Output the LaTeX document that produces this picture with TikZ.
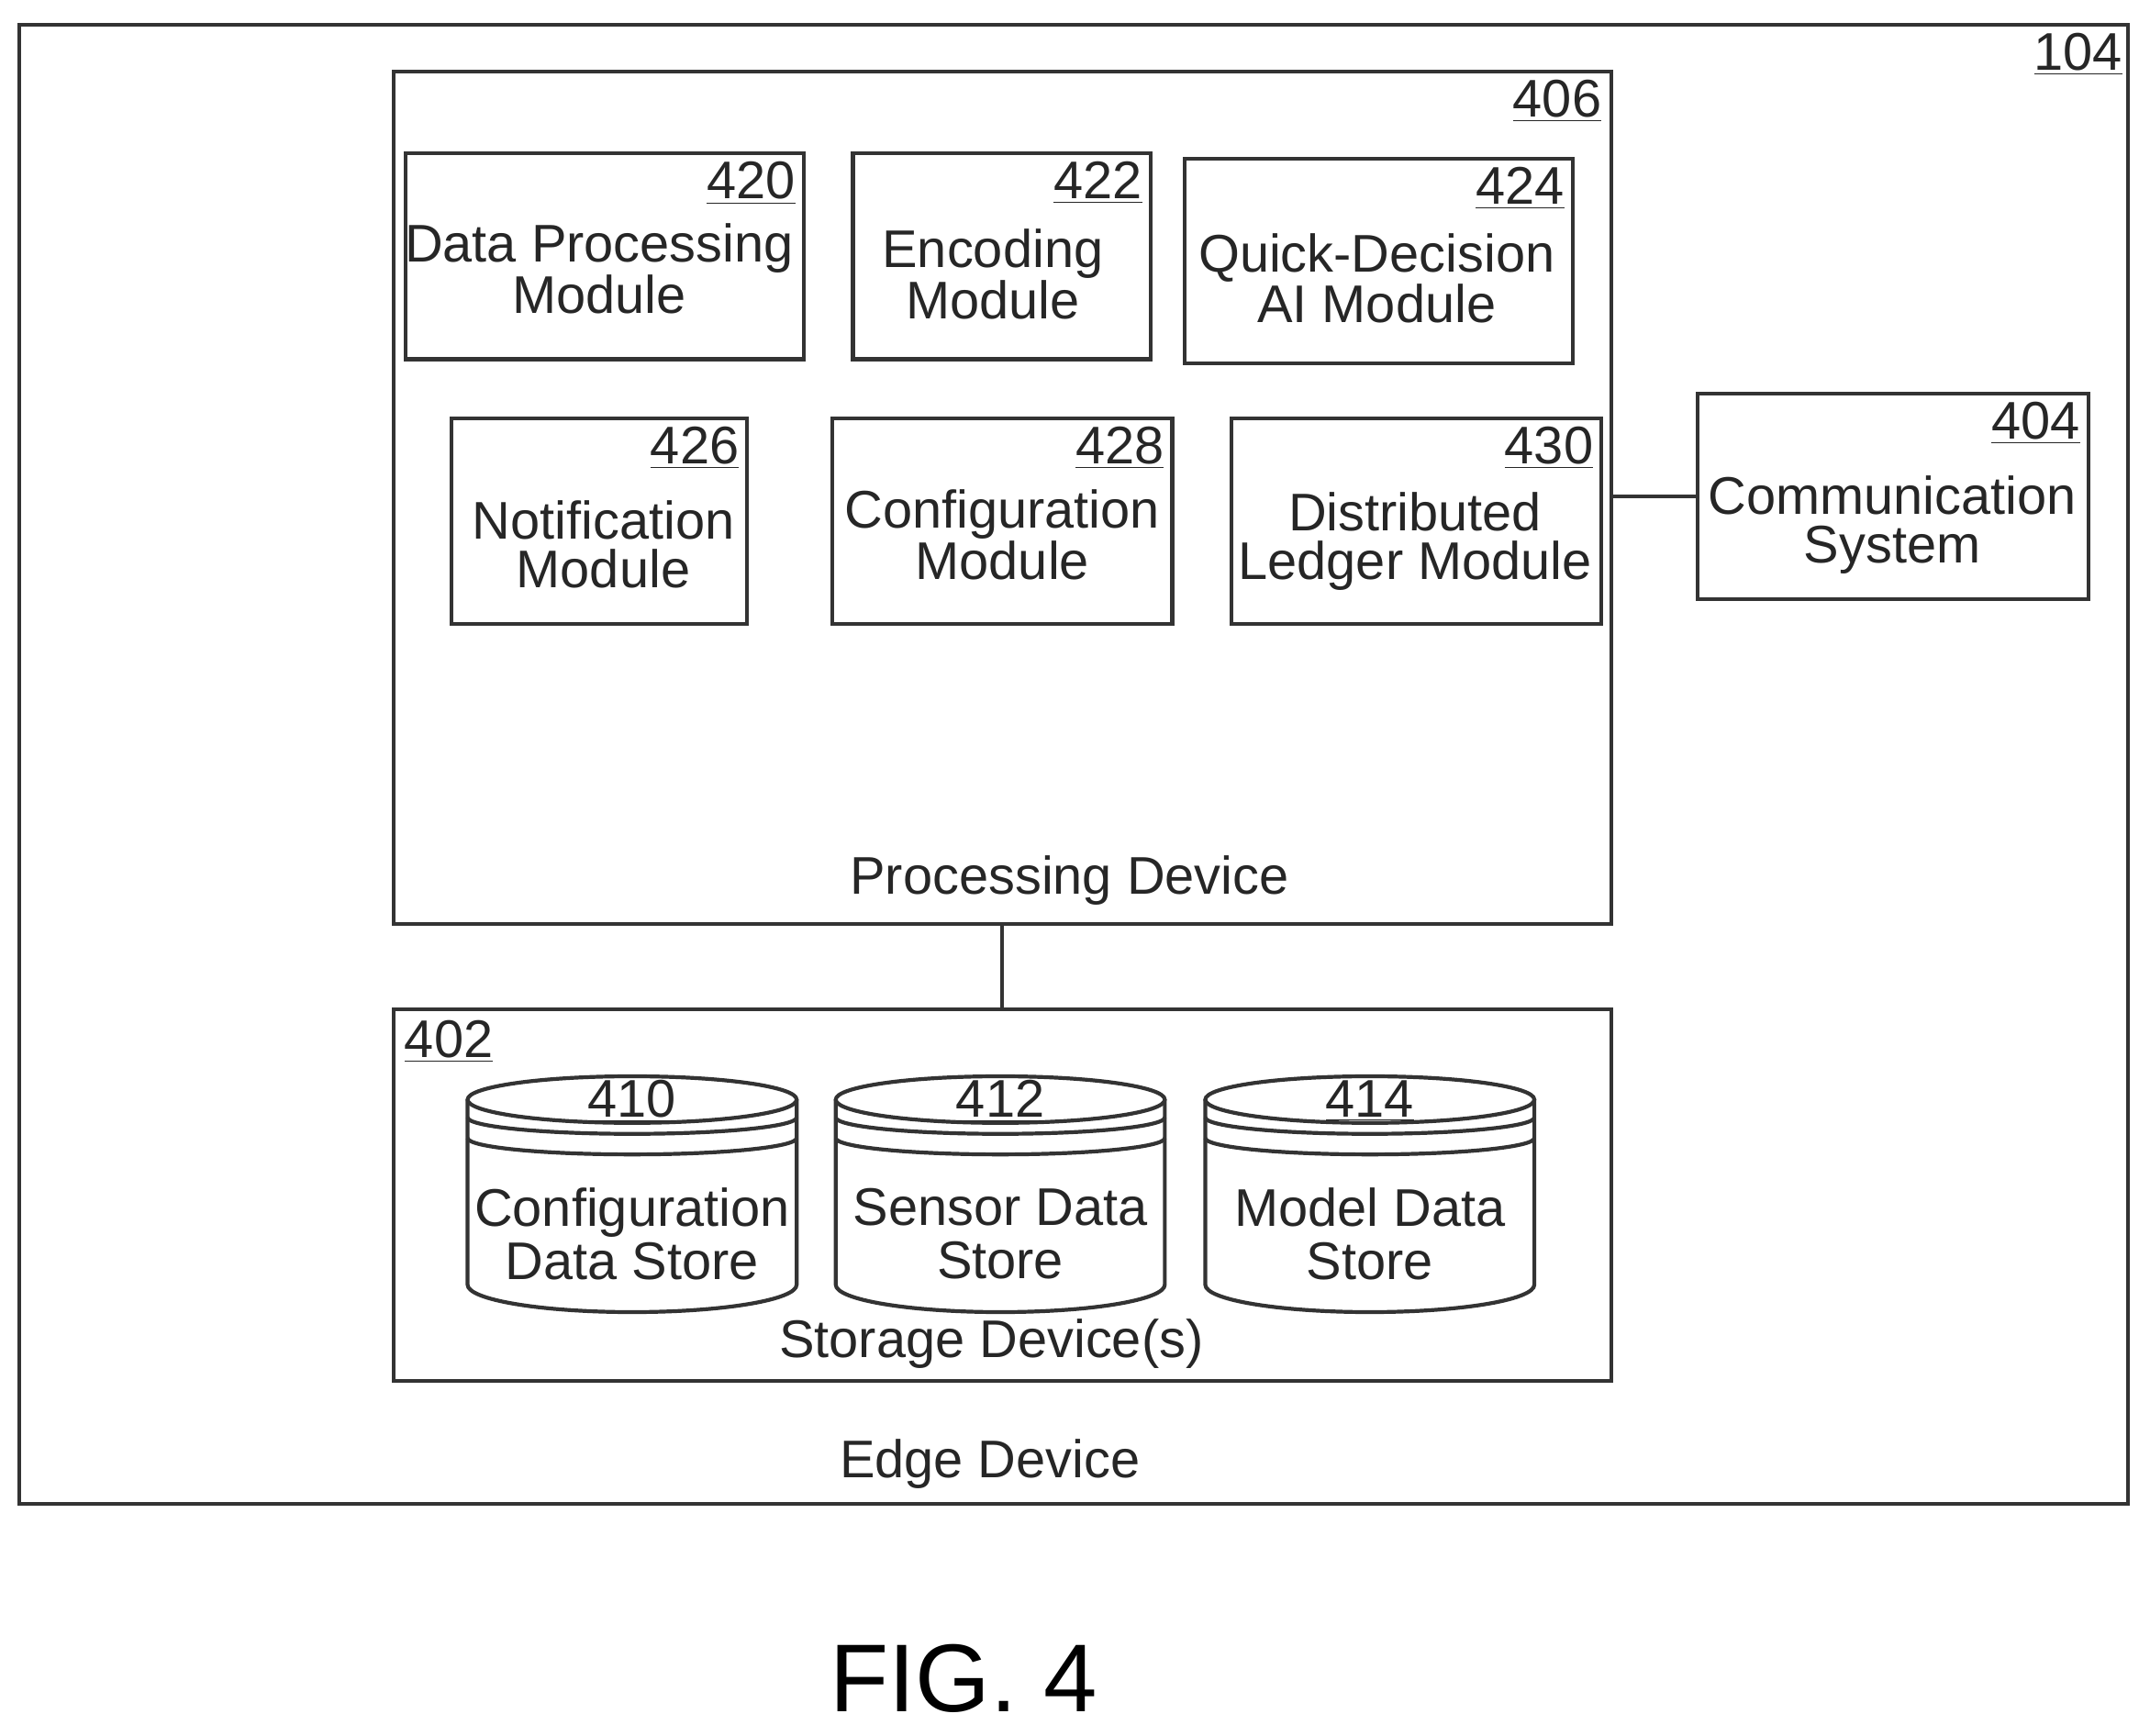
\documentclass[tikz,border=0pt]{standalone}
\usepackage{fontspec}
\setmainfont{Liberation Sans}
\begin{document}
\begin{tikzpicture}[x=0.02cm,y=-0.02cm,
  box/.style={draw=black!80,line width=1.6pt,inner sep=0pt},
  lbl/.style={font=\fontsize{22}{20}\selectfont,align=center,text=black!85},
  num/.style={font=\fontsize{22}{19}\selectfont,text=black!85,inner sep=1pt,anchor=north east},
  conn/.style={draw=black!80,line width=1.6pt}]
\useasboundingbox (0,0) rectangle (1568,1266);
% outer
\node[box,minimum width=30.76cm,minimum height=21.58cm] (edge) at (783,557.5) {};
\node[num] at (1550,22) {\underline{104}};
\node[lbl] (edgelbl) at (722,1068) {Edge Device};
% processing
\node[box,minimum width=17.76cm,minimum height=12.44cm] (proc) at (731,363) {};
\node[num] at (1170,56) {\underline{406}};
\node[lbl] (proclbl) at (780,642) {Processing Device};
% modules
\node[box,minimum width=5.8cm,minimum height=3cm] (m420) at (441,187) {};
\node[num] at (582,116) {\underline{420}};
\node[lbl] at (437,196) {Data Processing\\Module};
\node[box,minimum width=4.34cm,minimum height=3cm] (m422) at (730.5,187) {};
\node[num] at (835,116) {\underline{422}};
\node[lbl] at (724,200) {Encoding\\Module};
\node[box,minimum width=5.66cm,minimum height=2.98cm] (m424) at (1005.5,190.5) {};
\node[num] at (1143,120) {\underline{424}};
\node[lbl] at (1004,203) {Quick-Decision\\AI Module};
\node[box,minimum width=4.32cm,minimum height=3cm] (m426) at (437,380) {};
\node[num] at (541,309) {\underline{426}};
\node[lbl] at (440,397) {Notification\\Module};
\node[box,minimum width=4.96cm,minimum height=3cm] (m428) at (731,380) {};
\node[num] at (851,309) {\underline{428}};
\node[lbl] at (731,390) {Configuration\\Module};
\node[box,minimum width=5.4cm,minimum height=3cm] (m430) at (1033,380) {};
\node[num] at (1164,309) {\underline{430}};
\node[lbl] at (1032,395) {Distributed\\Ledger Module};
% communication
\node[box,minimum width=5.7cm,minimum height=3cm] (comm) at (1380.5,362) {};
\node[num] at (1519,291) {\underline{404}};
\node[lbl] at (1380,383) {Communication\\System};
% storage
\node[box,minimum width=17.76cm,minimum height=5.42cm] (stor) at (731,871.5) {};
\node[num,anchor=north west] at (293,742) {\underline{402}};
\node[lbl] (storlbl) at (723,980) {Storage Device(s)};
% connectors
\draw[conn] (proc.east |- comm.west) -- (comm.west);
\draw[conn] (proc.south) -- (stor.north);
% cylinders
\foreach \cx/\n/\t in {461/410/{Configuration\\Data Store},729.5/412/{Sensor Data\\Store},999/414/{Model Data\\Store}}{
  \begin{scope}[line width=1.6pt]
  \draw[black!80] (\cx-120,802) -- (\cx-120,937) arc[start angle=180,end angle=0,x radius=120,y radius=20] -- (\cx+120,802);
  \draw[black!80] (\cx,802) ellipse[x radius=120,y radius=17];
  \draw[black!80] (\cx-120,815) arc[start angle=180,end angle=0,x radius=120,y radius=12];
  \draw[black!80] (\cx-120,830) arc[start angle=180,end angle=0,x radius=120,y radius=12];
  \end{scope}
  \node[lbl] at (\cx,803) {\underline{\n}};
  \node[lbl,font=\fontsize{22}{22}\selectfont] at (\cx,900) {\t};
}
\node[font=\fontsize{40}{40}\selectfont] (fig) at (703,1224) {FIG. 4};
\end{tikzpicture}
\end{document}
